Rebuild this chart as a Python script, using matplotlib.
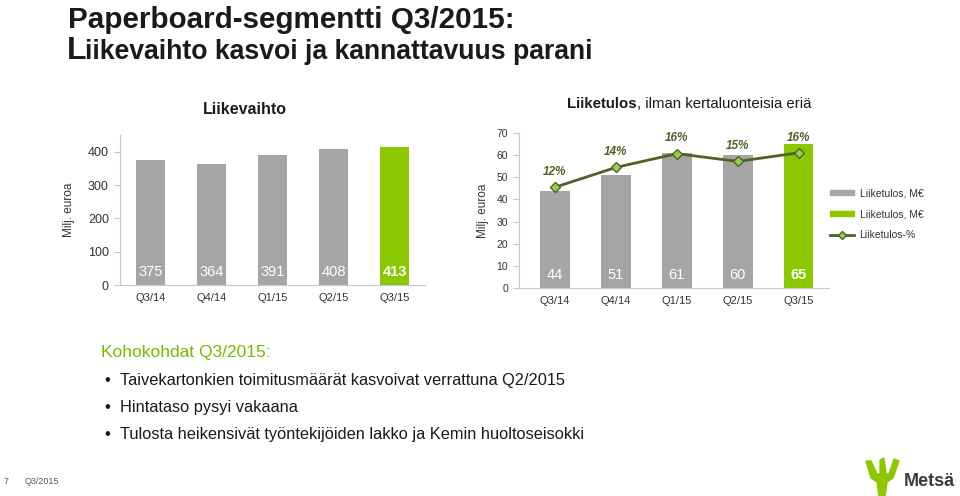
import matplotlib
matplotlib.use("Agg")
import matplotlib.pyplot as plt
from matplotlib.patches import Patch, Polygon
from matplotlib.lines import Line2D

# ============================================
# Paperboard-segmentti Q3/2015
# ============================================

quarters = ["Q3/14", "Q4/14", "Q1/15", "Q2/15", "Q3/15"]
liikevaihto = [375, 364, 391, 408, 413]
liiketulos = [44, 51, 61, 60, 65]
liiketulos_pct = [11.7, 14.0, 15.6, 14.7, 15.7]
pct_labels = ["12%", "14%", "16%", "15%", "16%"]

highlights = [
    "Taivekartonkien toimitusmäärät kasvoivat verrattuna Q2/2015",
    "Hintataso pysyi vakaana",
    "Tulosta heikensivät työntekijöiden lakko ja Kemin huoltoseisokki",
]

GRAY = "#a5a5a5"
GREEN = "#8cc800"
DARK_GREEN = "#4f6228"
MARKER_GREEN = "#92d050"
AXIS_GRAY = "#c8c8c8"

W, H = 960, 496
plt.rcParams["font.family"] = ["Liberation Sans", "DejaVu Sans"]


def px_axes(fig, left, top, right, bottom):
    return fig.add_axes([left / W, 1 - bottom / H, (right - left) / W, (bottom - top) / H])


def style_axes(ax, ytick_size):
    for side in ("top", "right"):
        ax.spines[side].set_visible(False)
    for side in ("left", "bottom"):
        ax.spines[side].set_color(AXIS_GRAY)
    ax.tick_params(axis="x", length=0, labelsize=8, colors="#333333", pad=6)
    ax.tick_params(axis="y", length=4, color=AXIS_GRAY, labelsize=ytick_size,
                   colors="#333333", pad=4)


def bar_colors(n):
    return [GRAY] * (n - 1) + [GREEN]


def draw_bars(ax, values):
    x = list(range(len(values)))
    ax.bar(x, values, width=0.49, color=bar_colors(len(values)))
    ax.set_xticks(x)
    ax.set_xticklabels(quarters)
    for i, v in enumerate(values):
        ax.annotate(str(v), (i, 0), xytext=(0, 4), textcoords="offset points",
                    ha="center", va="bottom", color="white", fontsize=10.5,
                    fontweight="bold" if i == len(values) - 1 else "normal")


fig = plt.figure(figsize=(W / 100, H / 100), dpi=100)

# headline
fig.text(68 / W, 1 - 28 / H, "Paperboard-segmentti Q3/2015:", fontsize=21.3,
         fontweight="bold", va="baseline", ha="left", color="#1a1a1a")
fig.text(67 / W, 1 - 59 / H, "L", fontsize=23, fontweight="bold",
         va="baseline", ha="left", color="#1a1a1a")
fig.text(85 / W, 1 - 59 / H, "iikevaihto kasvoi ja kannattavuus parani", fontsize=19.2,
         fontweight="bold", ha="left", va="baseline", color="#1a1a1a")

# Liikevaihto
ax1 = px_axes(fig, 120, 135, 425, 285)
draw_bars(ax1, liikevaihto)
ax1.set_xlim(-0.5, 4.5)
ax1.set_ylim(0, 450)
ax1.set_yticks(range(0, 401, 100))
style_axes(ax1, 9)
ax1.set_ylabel("Milj. euroa", fontsize=8.5, labelpad=9, color="#333333")
fig.text(245 / W, 1 - 110 / H, "Liikevaihto", fontsize=11.5, fontweight="bold",
         ha="center", va="center", color="#1a1a1a")

# Liiketulos
ax2 = px_axes(fig, 519, 133, 829, 288)
draw_bars(ax2, liiketulos)
ax2.set_xlim(-0.59, 4.5)
ax2.set_ylim(0, 70)
ax2.set_yticks(range(0, 71, 10))
style_axes(ax2, 7.5)
ax2.set_ylabel("Milj. euroa", fontsize=8.5, labelpad=5, color="#333333")
bold_part = fig.text(567 / W, 1 - 104 / H, "Liiketulos", fontsize=10.8,
                     fontweight="bold", ha="left", va="center", color="#1a1a1a")
fig.texts.append(plt.Annotation(", ilman kertaluonteisia eriä", xy=(1, 0.5),
                                xycoords=bold_part, ha="left", va="center",
                                fontsize=10.8, color="#1a1a1a"))
fig.texts[-1].set_figure(fig)

ax3 = ax2.twinx()
ax3.set_ylim(0, 18)
ax3.axis("off")
ax3.plot(range(len(liiketulos_pct)), liiketulos_pct, color=DARK_GREEN, lw=2,
         marker="D", markersize=5.5, markerfacecolor=MARKER_GREEN,
         markeredgecolor=DARK_GREEN, markeredgewidth=1)
for i, (p, lab) in enumerate(zip(liiketulos_pct, pct_labels)):
    ax3.annotate(lab, (i, p), xytext=(0, 11), textcoords="offset points",
                 ha="center", va="center", fontsize=8.5, fontweight="bold",
                 fontstyle="italic", color=DARK_GREEN)

handles = [
    Patch(color=GRAY),
    Patch(color=GREEN),
    Line2D([], [], color=DARK_GREEN, lw=2, marker="D", markersize=4,
           markerfacecolor=MARKER_GREEN, markeredgecolor=DARK_GREEN),
]
fig.legend(handles, ["Liiketulos, M€", "Liiketulos, M€", "Liiketulos-%"],
           loc="upper left", bbox_to_anchor=(821 / W, 1 - 179 / H), frameon=False,
           fontsize=7.5, handlelength=2.3, handleheight=0.35, labelspacing=1.05,
           handletextpad=0.5, labelcolor="#333333")

# highlights
fig.text(101 / W, 1 - 352 / H, "Kohokohdat Q3/2015:", fontsize=12.5,
         color="#7ab800", va="center", ha="left")
for k, line in enumerate(highlights):
    y = 1 - (380 + k * 27.5) / H
    fig.text(104 / W, y, "•", fontsize=12, va="center", ha="left", color="#1a1a1a")
    fig.text(120 / W, y, line, fontsize=11.8, va="center", ha="left", color="#1a1a1a")

# footer
fig.text(4 / W, 1 - 481 / H, "7", fontsize=6.5, color="#555555", va="center")
fig.text(25 / W, 1 - 481 / H, "Q3/2015", fontsize=6.5, color="#555555", va="center")

# logo
antler = [(866, 461), (871, 461), (877, 474), (880, 474), (880, 460), (884, 458),
          (886, 474), (889, 474), (894, 459), (899, 461), (893, 478), (887, 482),
          (885, 496), (879, 496), (877, 482), (871, 478)]
fig.add_artist(Polygon([(x / W, 1 - y / H) for x, y in antler], closed=True,
                       transform=fig.transFigure, color="#8cc800"))
fig.text(904 / W, 1 - 481 / H, "Metsä", fontsize=13, fontweight="bold",
         color="#3a3a3a", va="center", ha="left")

fig.savefig("out.png", dpi=100)
